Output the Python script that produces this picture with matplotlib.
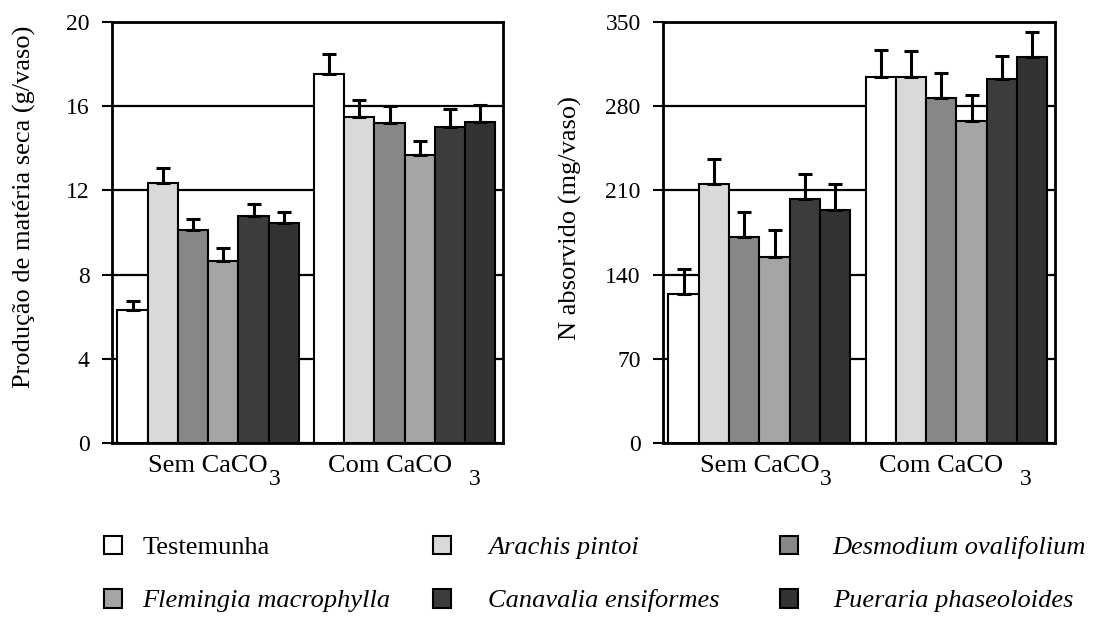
import numpy as np
import matplotlib
matplotlib.use("Agg")
import matplotlib.pyplot as plt
import matplotlib.transforms as mtransforms
from matplotlib.patches import Patch

plt.rcParams["font.family"] = ["Liberation Serif", "DejaVu Serif"]

# ---------------------------------------------------------------------------
# Data
# ---------------------------------------------------------------------------
species = ["Testemunha", "Arachis pintoi", "Desmodium ovalifolium",
           "Flemingia macrophylla", "Canavalia ensiformes", "Pueraria phaseoloides"]
italic = [False, True, True, True, True, True]
groups = ["Sem CaCO", "Com CaCO"]
group_sub = "3"

# dry matter (g/vaso) per species
ms_sem = [6.3, 12.35, 10.1, 8.65, 10.8, 10.45]
ms_com = [17.55, 15.5, 15.2, 13.7, 15.0, 15.25]
ms_err_sem = [0.45, 0.7, 0.55, 0.6, 0.55, 0.5]
ms_err_com = [0.95, 0.8, 0.8, 0.65, 0.85, 0.8]

# N absorbed (mg/vaso)
n_sem = [124, 215, 171, 155, 203, 194]
n_com = [304, 304, 287, 268, 303, 321]
n_err_sem = [21, 21, 21, 22, 21, 21]
n_err_com = [23, 22, 21, 21, 19, 21]

colors = ["#ffffff", "#d9d9d9", "#878787", "#a5a5a5", "#3c3c3c", "#323232"]

GROUP_GAP = 0.5
FS_TEXT = 19
FS_TICK = 17
# label tweaks per group: (shift of main text in px, gap before subscript in pt)
LABEL_SHIFT = [(0, 0.5), (-15, 12)]


def draw_panel(ax, sem, com, err_sem, err_com, yticks, ymax):
    ax.set_axisbelow(True)
    ax.yaxis.grid(True, color="black", lw=1.6)
    n = len(sem)
    centers = []
    for g, (vals, errs) in enumerate([(sem, err_sem), (com, err_com)]):
        x0 = g * (n + GROUP_GAP)
        xs = x0 + np.arange(n) + 0.5
        centers.append(x0 + n / 2)
        ax.bar(xs, vals, width=1.0, color=colors, edgecolor="black",
               linewidth=1.5, zorder=2)
        ax.errorbar(xs, vals, yerr=[np.zeros(n), errs], fmt="none",
                    ecolor="black", elinewidth=2.2, capsize=5, capthick=2.2,
                    zorder=3)
    ax.set_ylim(0, ymax)
    ax.set_yticks(yticks)
    ax.set_xlim(-0.18, 2 * n + GROUP_GAP + 0.25)
    ax.set_xticks([])
    ax.tick_params(axis="y", direction="out", length=7, width=1.5,
                   labelsize=FS_TICK, pad=9)
    for s in ax.spines.values():
        s.set_linewidth(2)

    # group labels "CaCO" with a low subscript 3
    blend = mtransforms.blended_transform_factory(ax.transData, ax.transAxes)
    for c, lab, (dx, gap) in zip(centers, groups, LABEL_SHIFT):
        tr = blend + mtransforms.ScaledTranslation(dx / 100, -12 / 100, fig.dpi_scale_trans)
        t = ax.text(c, 0, lab, transform=tr, ha="center", va="top", fontsize=FS_TEXT)
        ax.annotate(group_sub, xy=(1, 0), xycoords=t, xytext=(gap, -6),
                    textcoords="offset points", ha="left", va="baseline",
                    fontsize=FS_TICK)


fig = plt.figure(figsize=(11, 6.28), dpi=100)
ax1 = fig.add_axes([0.1018, 0.2946, 0.3555, 0.6704])
ax2 = fig.add_axes([0.6027, 0.2946, 0.3564, 0.6704])

draw_panel(ax1, ms_sem, ms_com, ms_err_sem, ms_err_com, [0, 4, 8, 12, 16, 20], 20)
draw_panel(ax2, n_sem, n_com, n_err_sem, n_err_com, [0, 70, 140, 210, 280, 350], 350)

fig.text(24 / 1100, 1 - 207 / 628, "Produção de matéria seca (g/vaso)",
         rotation=90, ha="center", va="center", fontsize=FS_TEXT)
fig.text(570 / 1100, 1 - 218 / 628, "N absorvido (mg/vaso)",
         rotation=90, ha="center", va="center", fontsize=FS_TEXT)

# legend: three columns, two rows each
handles = [Patch(facecolor=c, edgecolor="black", linewidth=1.5) for c in colors]
col_x = [104, 433, 780]
col_pad = [0.75, 1.4, 1.3]
for j in range(3):
    idx = [j, j + 3]
    leg = fig.legend([handles[i] for i in idx], [species[i] for i in idx],
                     loc="upper left", bbox_to_anchor=(col_x[j] / 1100, 1 - 536 / 628),
                     frameon=False, fontsize=FS_TEXT, borderpad=0, borderaxespad=0,
                     handlelength=0.7, handleheight=0.7, handletextpad=col_pad[j],
                     labelspacing=1.12)
    for t, i in zip(leg.get_texts(), idx):
        if italic[i]:
            t.set_fontstyle("italic")

fig.savefig("out.png", dpi=100)
